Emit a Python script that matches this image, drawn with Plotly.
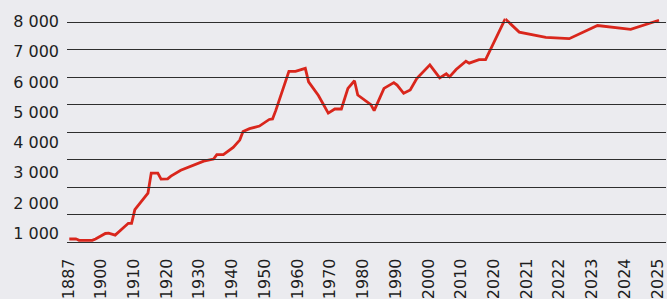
import plotly.graph_objects as go

# Historical series (yearly-ish readings), 1887-2020
hist_years = [1887, 1889, 1890, 1894, 1895, 1898, 1899, 1901, 1905, 1906,
              1907, 1911, 1912, 1914, 1915, 1917, 1918, 1921, 1928, 1931,
              1932, 1934, 1937, 1939, 1940, 1942, 1945, 1948, 1949, 1950,
              1954, 1956, 1959, 1960, 1963, 1966, 1968, 1970, 1972, 1974,
              1975, 1979, 1980, 1983, 1986, 1987, 1989, 1991, 1993, 1997,
              2000, 2002, 2003, 2005, 2008, 2009, 2012, 2014, 2020]
hist_values = [110, 115, 60, 60, 110, 310, 320, 250, 680, 680,
               1180, 1780, 2510, 2510, 2290, 2300, 2400, 2610, 2945, 3020,
               3180, 3180, 3445, 3710, 4020, 4125, 4220, 4460, 4480, 4790,
               6210, 6210, 6320, 5830, 5330, 4690, 4840, 4840, 5590, 5870,
               5350, 5000, 4780, 5590, 5800, 5710, 5410, 5530, 5950, 6450,
               5975, 6120, 6010, 6280, 6580, 6510, 6640, 6640, 8120]

# Recent series, 2020-2025 (expanded scale)
recent_dates = ["2020-01-01", "2020-06-15", "2021-04-27", "2022-01-30",
                "2023-01-01", "2024-01-30", "2025-01-01"]
recent_values = [8120, 7640, 7450, 7400, 7880, 7740, 8070]

# Axis labels
x_labels = ["1887", "1900", "1910", "1920", "1930", "1940", "1950", "1960",
            "1970", "1980", "1990", "2000", "2010", "2020", "2021", "2022",
            "2023", "2024", "2025"]
y_ticks = [1000, 2000, 3000, 4000, 5000, 6000, 7000, 8000]
y_labels = ["1 000", "2 000", "3 000", "4 000", "5 000", "6 000", "7 000", "8 000"]

RED = "#d9261c"
TXT = "#1e1e1e"
GRID = "#2e2e2e"
FONT = "DejaVu Sans"

split = (506 - 67) / 600.0

fig = go.Figure()
fig.add_trace(go.Scatter(x=hist_years, y=hist_values, mode="lines",
                         line=dict(color=RED, width=2.8), xaxis="x", yaxis="y",
                         hoverinfo="x+y"))
fig.add_trace(go.Scatter(x=recent_dates, y=recent_values, mode="lines",
                         line=dict(color=RED, width=2.8), xaxis="x2", yaxis="y",
                         hoverinfo="x+y"))
# empty helper traces so the label axes are laid out
fig.add_trace(go.Scatter(x=list(range(len(x_labels))), y=[None] * len(x_labels),
                         mode="lines", xaxis="x3", yaxis="y", hoverinfo="skip"))
fig.add_trace(go.Scatter(x=[None] * len(y_ticks), y=y_ticks,
                         mode="lines", xaxis="x", yaxis="y2", hoverinfo="skip"))

fig.update_layout(
    width=667, height=299,
    margin=dict(l=67, r=0, t=10, b=53),
    paper_bgcolor="#ebebef",
    plot_bgcolor="rgba(0,0,0,0)",
    showlegend=False,
    font=dict(family=FONT, size=16, color=TXT),
    xaxis=dict(domain=[0, split], range=[1886.3, 2020], anchor="y",
               showticklabels=False, showgrid=False, zeroline=False, ticks=""),
    xaxis2=dict(domain=[split, 1], type="date",
                range=["2020-01-01", "2025-03-25"], anchor="y",
                showticklabels=False, showgrid=False, zeroline=False, ticks=""),
    xaxis3=dict(domain=[0, 1], range=[-0.04, 18.26], anchor="y",
                tickmode="array", tickvals=list(range(len(x_labels))),
                ticktext=x_labels, tickangle=-90, showgrid=False,
                zeroline=False, ticks="", ticklabelstandoff=9,
                ticklabeloverflow="allow",
                showline=True, linecolor=GRID, linewidth=1.2,
                tickfont=dict(family=FONT, size=16, color=TXT)),
    yaxis=dict(range=[0, 8444], tickmode="array",
               tickvals=y_ticks, showticklabels=False,
               showgrid=True, gridcolor=GRID, gridwidth=1.2,
               zeroline=False, ticks=""),
    yaxis2=dict(range=[707, 8380], overlaying="y", side="left", anchor="x",
                tickmode="array", tickvals=y_ticks, ticktext=y_labels,
                showgrid=False, zeroline=False, ticks="",
                ticklabelstandoff=7, ticklabeloverflow="allow",
                tickfont=dict(family=FONT, size=16, color=TXT)),
)

fig.write_html("out.html", config={"displayModeBar": False},
               post_script="document.body.style.margin='0';")
